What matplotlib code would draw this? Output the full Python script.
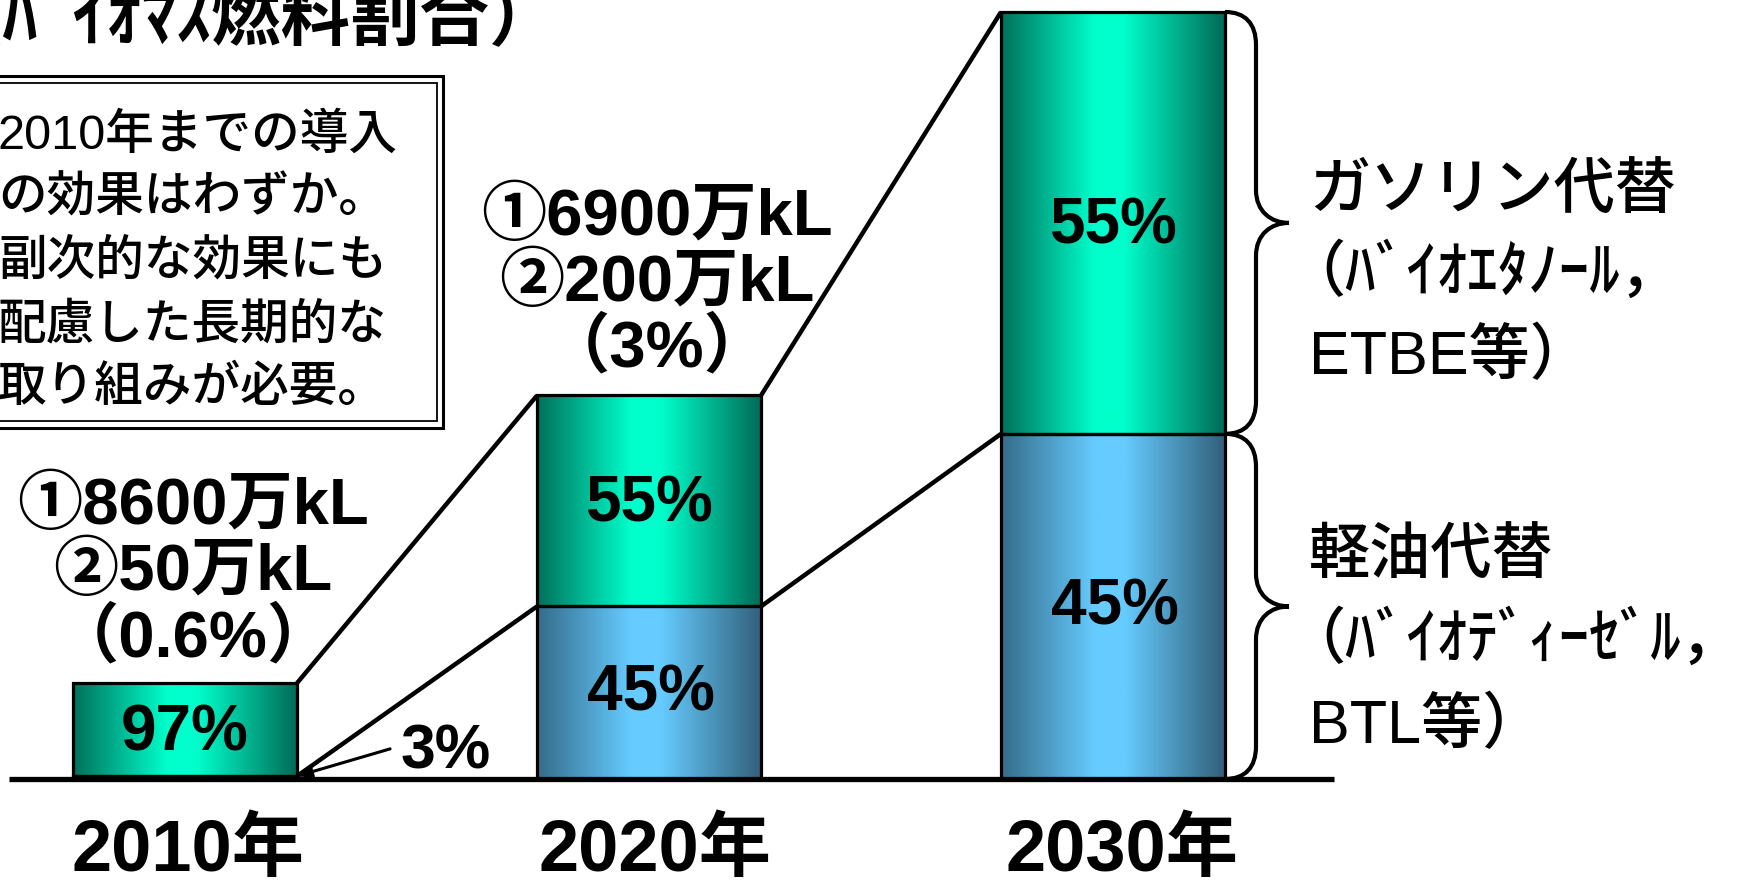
import numpy as np
import matplotlib
matplotlib.use("Agg")
import matplotlib.pyplot as plt
from matplotlib.colors import LinearSegmentedColormap
from matplotlib.patches import Rectangle, PathPatch
from matplotlib.path import Path
from matplotlib.transforms import Affine2D

plt.rcParams['font.family'] = ['Liberation Sans', 'Noto Sans CJK JP']

# --- data -------------------------------------------------------------
years = ['2010年', '2020年', '2030年']
bio_total = [50, 200, 400]          # bar height (biomass fuel, relative)
gasoline_pct = [97, 55, 55]
diesel_pct = [3, 45, 45]
amount_labels = [
    ['①8600万kL', '②50万kL', '（0.6%）'],
    ['①6900万kL', '②200万kL', '（3%）'],
]
gasoline_desc = ['ガソリン代替', '（ﾊﾞｲｵｴﾀﾉｰﾙ，', 'ETBE等）']
diesel_desc = ['軽油代替', '（ﾊﾞｲｵﾃﾞｨｰｾﾞﾙ，', 'BTL等）']
note_lines = ['2010年までの導入', 'の効果はわずか。', '副次的な効果にも',
              '配慮した長期的な', '取り組みが必要。']
title = '（ﾊﾞｲｵﾏｽ燃料割合）'

# --- layout (pixels) ----------------------------------------------------
W, H = 1751, 886
X0, DX = 185, 464          # first bar centre, spacing between bars
Y0 = 779                   # baseline
SY = 767 / 400             # px per data unit
BW = 224 / DX              # bar width in category units
PT = 72 / 100              # points per pixel

fig = plt.figure(figsize=(W / 100, H / 100), dpi=100)
ax = fig.add_axes([0, 0, 1, 1])
ax.axis('off')
PX = Affine2D().scale(1, -1).translate(0, H)   # y-down pixel coords

green = LinearSegmentedColormap.from_list(
    'green', [(0, '#00705a'), (0.42, '#00ffcc'), (0.55, '#00ffcc'), (1, '#006a55')])
blue = LinearSegmentedColormap.from_list(
    'blue', [(0, '#356b8a'), (0.42, '#66ccff'), (0.55, '#66ccff'), (1, '#32607a')])
grad = np.linspace(0, 1, 256).reshape(1, -1)

x = np.arange(len(years))
total = np.array(bio_total, dtype=float)
diesel = total * np.array(diesel_pct) / 100
gasoline = total * np.array(gasoline_pct) / 100

bars_d = ax.bar(x, diesel, width=BW, facecolor='none', edgecolor='black',
                linewidth=2.3, zorder=3)
bars_g = ax.bar(x, gasoline, bottom=diesel, width=BW, facecolor='none',
                edgecolor='black', linewidth=2.3, zorder=3)

for bars, cmap in ((bars_d, blue), (bars_g, green)):
    for r in bars:
        x0, y0 = r.get_x(), r.get_y()
        ax.imshow(grad, cmap=cmap, aspect='auto', interpolation='bicubic',
                  extent=(x0, x0 + r.get_width(), y0, y0 + r.get_height()),
                  zorder=2)

# connecting lines between bars
for i in range(len(x) - 1):
    xr, xl = x[i] + BW / 2, x[i + 1] - BW / 2
    ax.plot([xr, xl], [total[i], total[i + 1]], color='black', lw=3.2, zorder=4,
            solid_capstyle='butt')
    ax.plot([xr, xl], [diesel[i], diesel[i + 1]], color='black', lw=3.2, zorder=4,
            solid_capstyle='butt')

# baseline
ax.plot([x[0] - 0.38, x[-1] + 0.476], [0, 0], color='black', lw=3.8, zorder=5,
        solid_capstyle='butt')


def brace(x0, y0, y1, stem=31, depth=64, r=33):
    """Curly brace opening left, from y0 (bottom) to y1 (top) in data units."""
    sx, tx, ry = stem / DX, depth / DX, r / SY
    ym = (y0 + y1) / 2
    mx = sx + (tx - sx) * 0.45
    verts = [(x0, y1),
             (x0 + sx * 0.65, y1), (x0 + sx, y1 - ry * 0.35), (x0 + sx, y1 - ry),
             (x0 + sx, ym + ry),
             (x0 + sx, ym + ry * 0.35), (x0 + mx, ym), (x0 + tx, ym),
             (x0 + mx, ym), (x0 + sx, ym - ry * 0.35), (x0 + sx, ym - ry),
             (x0 + sx, y0 + ry),
             (x0 + sx, y0 + ry * 0.35), (x0 + sx * 0.65, y0), (x0, y0)]
    codes = ([Path.MOVETO] + [Path.CURVE4] * 3 + [Path.LINETO] + [Path.CURVE4] * 6
             + [Path.LINETO] + [Path.CURVE4] * 3)
    ax.add_patch(PathPatch(Path(verts, codes), facecolor='none',
                           edgecolor='black', lw=3.0, zorder=4))


xb = x[-1] + BW / 2
brace(xb, diesel[-1], total[-1])
brace(xb, 0, diesel[-1])

ax.set_xlim(-X0 / DX, (W - X0) / DX)
ax.set_ylim(-(H - Y0) / SY, Y0 / SY)


def label(s, xy, dx_px, dy_px, size, weight='bold', ha='center'):
    # dy_px: pixels from xy up to the visual centre of the digits
    ax.annotate(s, xy, xytext=(dx_px * PT, dy_px * PT - 0.358 * size),
                textcoords='offset points', ha=ha, va='baseline',
                fontsize=size, fontweight=weight, zorder=6)


# percentages inside the bars
for i in range(len(x)):
    if diesel_pct[i] >= 10:
        label(f'{diesel_pct[i]}%', (x[i], diesel[i] / 2), 2, 5, 46)
    label(f'{gasoline_pct[i]}%', (x[i], diesel[i] + gasoline[i] / 2), 0, 2, 46)

# small 3% share of 2010, pointed at with an arrow
ax.annotate(f'{diesel_pct[0]}%', (x[0] + BW / 2, diesel[0]),
            xytext=(149 * PT, 8 * PT), textcoords='offset points',
            ha='center', va='baseline', fontsize=45, fontweight='bold', zorder=6,
            arrowprops=dict(arrowstyle='-|>,head_length=0.6,head_width=0.25',
                            mutation_scale=14, color='black', lw=2.2,
                            shrinkA=6, shrinkB=0, relpos=(0, 0.6)))

# fuel amounts above the first two bars
for i, lines in enumerate(amount_labels):
    gap = 50 if i == 0 else 52
    for j, s in enumerate(lines):
        label(s, (x[i], total[i]), 8, gap + 66 * (len(lines) - 1 - j), 47)

# year labels
for i, yr in enumerate(years):
    label(yr, (x[i], 0), 3 + 3 * i, -66, 52)

# descriptions to the right of the braces
for rows, ys in ((gasoline_desc, (185, 268, 351)), (diesel_desc, (550, 635, 720))):
    for s, yc in zip(rows, ys):
        xs = 1284 if s.startswith('（') else 1309
        fig.text(xs, yc + 0.38 * 44 / PT, s, transform=PX, fontsize=44,
                 fontweight='medium', ha='left', va='baseline')

# title (partly outside the canvas)
fig.text(-66, 40, title, transform=PX, fontsize=50, fontweight='bold',
         ha='left', va='baseline')

# note box with a double border
fig.add_artist(Rectangle((-10, 76), 453, 352, transform=PX, facecolor='white',
                         edgecolor='black', lw=2.2))
fig.add_artist(Rectangle((-10, 83), 447, 338, transform=PX, facecolor='none',
                         edgecolor='black', lw=1.3))
for k, s in enumerate(note_lines):
    fig.text(-2, 130 + 63 * k + 19, s, transform=PX, fontsize=35,
             fontweight='medium', ha='left', va='baseline')

fig.savefig('out.png', dpi=100)
